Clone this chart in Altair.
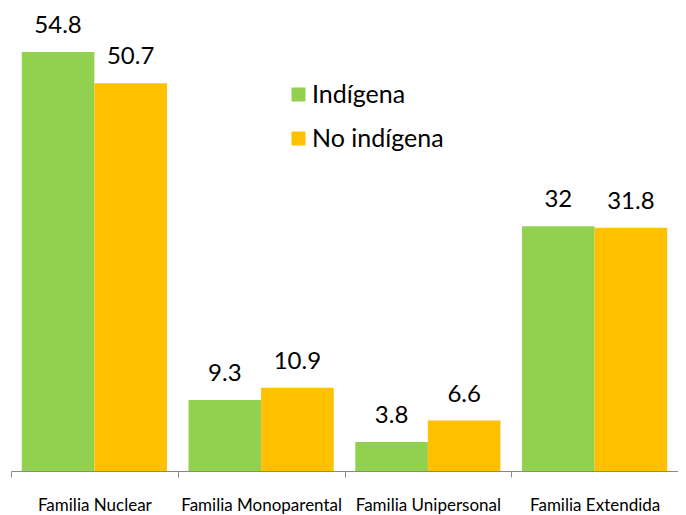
import altair as alt
import pandas as pd

categories = ["Familia Nuclear", "Familia Monoparental", "Familia Unipersonal", "Familia Extendida"]
series = ["Indígena", "No indígena"]
indigena = [54.8, 9.3, 3.8, 32]
no_indigena = [50.7, 10.9, 6.6, 31.8]
colors = ["#92D050", "#FFC000"]

rows = []
for c, a, b in zip(categories, indigena, no_indigena):
    rows.append({"cat": c, "serie": series[0], "val": a})
    rows.append({"cat": c, "serie": series[1], "val": b})
df = pd.DataFrame(rows)

FONT = "Lato"

x = alt.X("cat:N", sort=categories, title=None,
          scale=alt.Scale(paddingInner=0, paddingOuter=0),
          axis=alt.Axis(tickBand="extent", labelAngle=0, domainColor="#888888",
                        tickColor="#888888", tickSize=6, labelFontSize=17,
                        labelFont=FONT, labelColor="#000000", labelPadding=20))
xo = alt.XOffset("serie:N", sort=series,
                 scale=alt.Scale(paddingInner=0, paddingOuter=0.1486))
y = alt.Y("val:Q", scale=alt.Scale(domain=[0, 60.55]), axis=None)

bars = alt.Chart(df).mark_bar(cornerRadius=0).encode(
    x=x, xOffset=xo, y=y,
    color=alt.Color("serie:N", sort=series, scale=alt.Scale(domain=series, range=colors),
                    legend=alt.Legend(title=None, orient="none", legendX=275, legendY=74,
                                      symbolType="square", symbolSize=196, symbolStrokeWidth=0,
                                      labelFont=FONT, labelFontSize=25, labelColor="#000000",
                                      rowPadding=18, labelOffset=1, padding=0)),
)

labels = alt.Chart(df).mark_text(font=FONT, fontSize=24, color="#000000",
                                 baseline="alphabetic", dy=-19).encode(
    x=alt.X("cat:N", sort=categories), xOffset=xo, y=y,
    text=alt.Text("val:Q", format=".1~f"),
)

chart = alt.layer(bars, labels).properties(
    width=667, height=463,
    autosize=alt.AutoSizeParams(type="none"),
    padding={"left": 3, "top": 0, "right": 0, "bottom": 48},
).configure_view(stroke=None)

chart.save("out.html", embed_options={"renderer": "svg", "actions": False})
